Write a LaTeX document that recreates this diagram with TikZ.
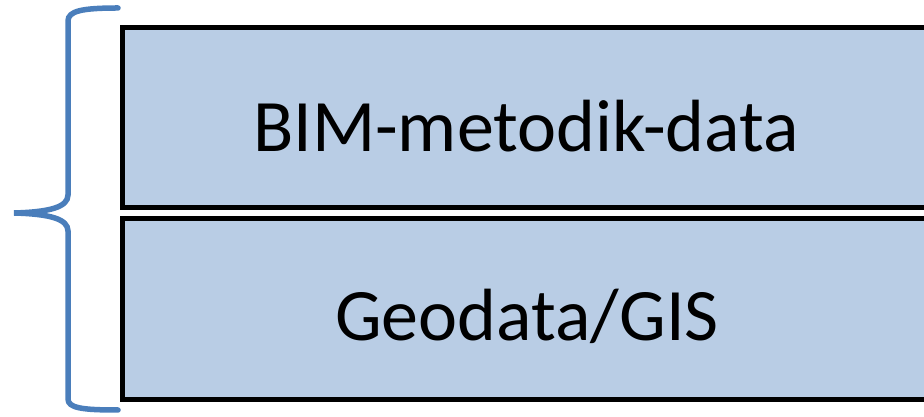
\documentclass[tikz,border=0pt]{standalone}
\usepackage{fontspec}
\setmainfont{Carlito}
\definecolor{boxfill}{RGB}{185,205,229}
\definecolor{bracecol}{RGB}{74,126,187}
\begin{document}
\begin{tikzpicture}[x=1pt,y=1pt,
  layerbox/.style={draw=black, line width=5pt, fill=boxfill, rectangle, inner sep=0pt, anchor=south west},
  layertext/.style={font=\fontsize{74}{80}\selectfont, inner sep=0pt},
  bracestyle/.style={draw=bracecol, line width=5.5pt, line cap=round}]
\useasboundingbox (0,0) rectangle (924,417);
\clip (0,0) rectangle (924,417);
\node[layerbox, minimum width=900pt, minimum height=179.5pt] (topbox) at (119.5,207) {};
\node[layerbox, minimum width=900pt, minimum height=180.5pt] (botbox) at (119.5,15) {};
\node[layertext] (toptext) at (526,291) {BIM-metodik-data};
\node[layertext] (bottext) at (527,101) {Geodata/GIS};
\draw[bracestyle] (118,409) .. controls (82,409) and (68,406) .. (68,396) -- (68,222)
  .. controls (68,210) and (50,205) .. (14,204)
  .. controls (50,203) and (68,198) .. (68,186) -- (68,18)
  .. controls (68,9) and (82,7) .. (118,7);
\end{tikzpicture}
\end{document}
